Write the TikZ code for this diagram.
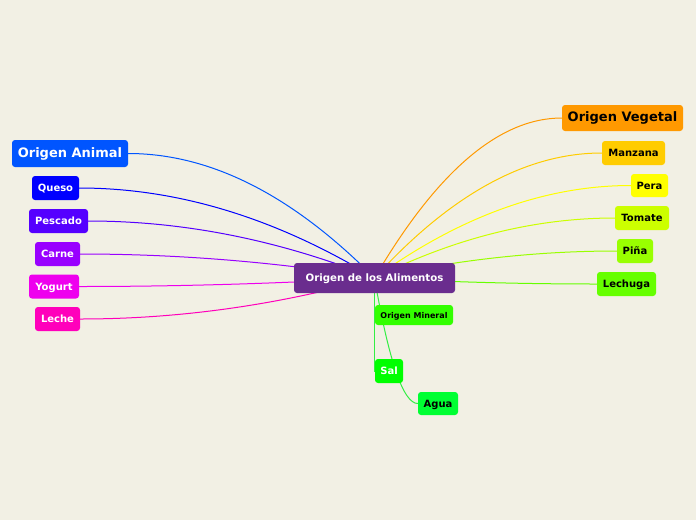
\documentclass[tikz,border=0pt]{standalone}
\usepackage{fontspec}
\setmainfont{DejaVu Sans}
\usetikzlibrary{calc,backgrounds}
\definecolor{bg}{HTML}{F2F0E4}
\definecolor{cPurple}{HTML}{6A2D8E}
\definecolor{cAnimal}{HTML}{0055FF}
\definecolor{cQueso}{HTML}{0000FF}
\definecolor{cPescado}{HTML}{5500FF}
\definecolor{cCarne}{HTML}{9900FF}
\definecolor{cYogurt}{HTML}{EE00EE}
\definecolor{cLeche}{HTML}{FF00BB}
\definecolor{cVegetal}{HTML}{FF9900}
\definecolor{cManzana}{HTML}{FFCC00}
\definecolor{cPera}{HTML}{FFFF00}
\definecolor{cTomate}{HTML}{CCFF00}
\definecolor{cPina}{HTML}{99FF00}
\definecolor{cLechuga}{HTML}{66FF00}
\definecolor{cMineral}{HTML}{33FF00}
\definecolor{cSal}{HTML}{00FF00}
\definecolor{cAgua}{HTML}{00FF33}
\definecolor{lMineral}{HTML}{33EE44}
\tikzset{
  box/.style={rounded corners=3pt, inner sep=0pt, text height=0.73em, text depth=0pt,
    font=\bfseries\fontsize{10}{12}\selectfont, text=white},
  darkt/.style={text=black},
  link/.style={line width=1pt},
}
\newcommand{\linkTo}[4]{\draw[link,#4] let \p1=(#1.center), \p2=(#2.#3) in
  (\p1) .. controls ({(2*\x1+\x2)/3},{(\y1+2*\y2)/3}) and ({(\x1+2*\x2)/3},\y2) .. (\p2);}
\begin{document}
\begin{tikzpicture}[x=1pt,y=-1pt]
\useasboundingbox (0,0) rectangle (696,520);
\path
 (374.5,278) node[box, fill=cPurple, minimum width=161pt, minimum height=30pt, font=\bfseries\fontsize{10.2}{12}\selectfont] (c) {Origen de los Alimentos}
 (70,153.5) node[box, fill=cAnimal, minimum width=116pt, minimum height=27pt, font=\bfseries\fontsize{13}{15}\selectfont] (an) {Origen Animal}
 (55.5,188) node[box, fill=cQueso, minimum width=47pt, minimum height=24pt] (qu) {Queso}
 (58.5,221) node[box, fill=cPescado, minimum width=59pt, minimum height=24pt] (pe) {Pescado}
 (57.5,254) node[box, fill=cCarne, minimum width=45pt, minimum height=24pt] (ca) {Carne}
 (54,286.5) node[box, fill=cYogurt, minimum width=50pt, minimum height=24pt] (yo) {Yogurt}
 (57.5,319) node[box, fill=cLeche, minimum width=45pt, minimum height=24pt] (le) {Leche}
 (622.5,118) node[box, darkt, fill=cVegetal, minimum width=121pt, minimum height=26pt, font=\bfseries\fontsize{13}{15}\selectfont] (ve) {Origen Vegetal}
 (633.5,153) node[box, darkt, fill=cManzana, minimum width=63pt, minimum height=24pt] (ma) {Manzana}
 (649.5,185.5) node[box, darkt, fill=cPera, minimum width=37pt, minimum height=23pt] (pr) {Pera}
 (642,218) node[box, darkt, fill=cTomate, minimum width=54pt, minimum height=24pt] (to) {Tomate}
 (635,251) node[box, darkt, fill=cPina, minimum width=36pt, minimum height=24pt] (pi) {Piña}
 (626.5,284) node[box, darkt, fill=cLechuga, minimum width=59pt, minimum height=24pt] (lc) {Lechuga}
 (414,315) node[box, darkt, fill=cMineral, minimum width=78pt, minimum height=20pt, font=\bfseries\fontsize{8}{9}\selectfont] (mi) {Origen Mineral}
 (389,371) node[box, fill=cSal, minimum width=28pt, minimum height=24pt] (sa) {Sal}
 (438,403.5) node[box, darkt, fill=cAgua, minimum width=40pt, minimum height=23pt] (ag) {Agua};
\begin{scope}[on background layer]
\fill[bg] (0,0) rectangle (696,520);
\linkTo{c}{an}{east}{cAnimal}
\linkTo{c}{qu}{east}{cQueso}
\linkTo{c}{pe}{east}{cPescado}
\linkTo{c}{ca}{east}{cCarne}
\linkTo{c}{yo}{east}{cYogurt}
\linkTo{c}{le}{east}{cLeche}
\linkTo{c}{ve}{west}{cVegetal}
\linkTo{c}{ma}{west}{cManzana}
\linkTo{c}{pr}{west}{cPera}
\linkTo{c}{to}{west}{cTomate}
\linkTo{c}{pi}{west}{cPina}
\linkTo{c}{lc}{west}{cLechuga}
\draw[link,lMineral] (c.center) -- (c.center |- mi.north);
\draw[link,lMineral] (c.center) -- (sa.west -| c.center) -- (sa.west);
\linkTo{c}{ag}{west}{lMineral}
\end{scope}
\end{tikzpicture}
\end{document}
